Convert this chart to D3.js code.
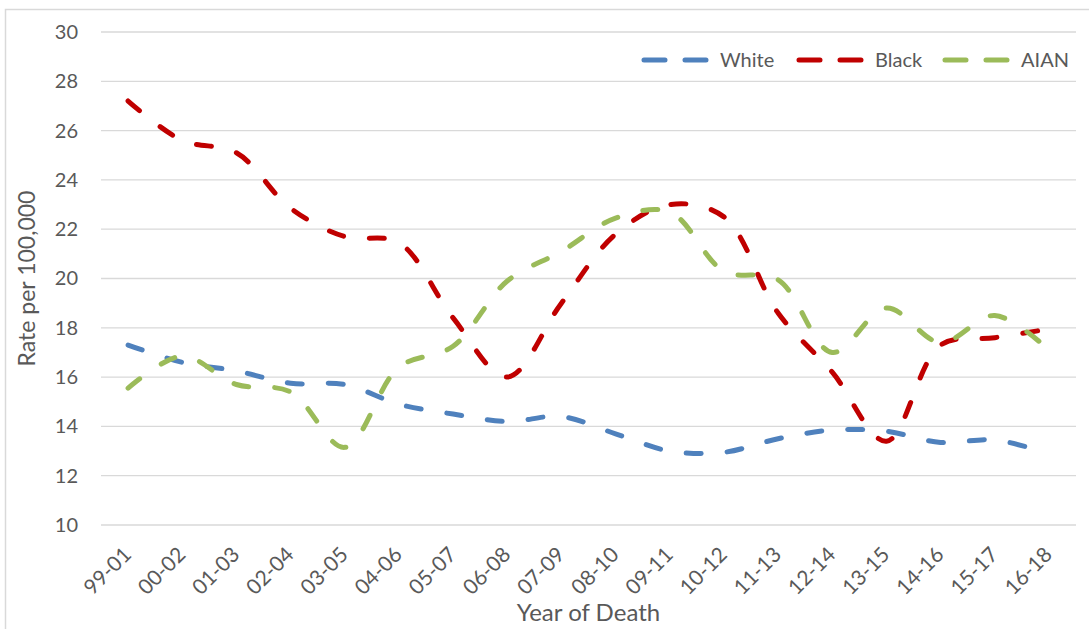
<!DOCTYPE html>
<html>
<head>
<meta charset="utf-8">
<script src="https://cdn.jsdelivr.net/npm/d3@7/dist/d3.min.js"></script>
<style>
  html, body { margin: 0; padding: 0; background: #fff; }
  svg { display: block; font-family: Lato, "Open Sans", sans-serif; }
</style>
</head>
<body>
<svg id="chart" width="1089" height="629"></svg>
<script>
// Three-year rolling rates per 100,000, by race
const periods = ["99-01","00-02","01-03","02-04","03-05","04-06","05-07","06-08","07-09",
                 "08-10","09-11","10-12","11-13","12-14","13-15","14-16","15-17","16-18"];
const white = [17.3, 16.6, 16.25, 15.75, 15.7, 14.9, 14.5, 14.2, 14.4, 13.7, 13.0, 12.95, 13.5, 13.85, 13.8, 13.35, 13.45, 12.9];
const black = [27.2, 25.6, 25.1, 22.85, 21.7, 21.45, 18.4, 16.0, 19.0, 21.8, 23.0, 22.5, 18.6, 16.2, 13.4, 17.3, 17.6, 17.95];
const aian  = [15.55, 16.85, 15.7, 15.4, 13.15, 16.4, 17.25, 19.9, 21.1, 22.45, 22.7, 20.3, 19.95, 17.0, 18.8, 17.4, 18.5, 17.1];
const yTicks = [10, 12, 14, 16, 18, 20, 22, 24, 26, 28, 30];
const seriesNames = ["White", "Black", "AIAN"];
const seriesColors = ["#4f81bd", "#c00000", "#9bbb59"];

const series = [white, black, aian].map((values, i) => ({
  name: seriesNames[i], color: seriesColors[i], values
}));

const svg = d3.select("#chart");
const textColor = "#595959";
const gridColor = "#d9d9d9";

// chart frame
svg.append("path")
  .attr("d", "M5.5,629 V9.5 H1089")
  .attr("fill", "none")
  .attr("stroke", gridColor)
  .attr("stroke-width", 1.5);

const plot = { left: 101, right: 1076, top: 32, bottom: 525 };

const x = d3.scalePoint().domain(periods).range([plot.left, plot.right]).padding(0.5);
const y = d3.scaleLinear().domain([10, 30]).range([plot.bottom, plot.top]);

// horizontal gridlines
svg.append("g")
  .selectAll("line")
  .data(yTicks)
  .join("line")
  .attr("x1", plot.left).attr("x2", plot.right)
  .attr("y1", d => y(d)).attr("y2", d => y(d))
  .attr("stroke", gridColor)
  .attr("stroke-width", 1.3);

// y axis labels
const yAxis = svg.append("g")
  .attr("transform", `translate(${plot.left},0)`)
  .call(d3.axisLeft(y).tickValues(yTicks).tickSize(0).tickPadding(23));
yAxis.select(".domain").remove();
yAxis.selectAll("text")
  .attr("fill", textColor)
  .style("font-size", "20px")
  .style("font-family", "Lato, 'Open Sans', sans-serif");

// x axis labels, rotated
const xAxis = svg.append("g")
  .attr("transform", `translate(0,${plot.bottom})`)
  .call(d3.axisBottom(x).tickSize(0));
xAxis.select(".domain").remove();
xAxis.selectAll(".tick text")
  .attr("fill", textColor)
  .style("font-size", "21px")
  .style("font-family", "Lato, 'Open Sans', sans-serif")
  .attr("text-anchor", "end")
  .attr("dy", null)
  .attr("y", 0)
  .attr("transform", "translate(4,31) rotate(-45)");

// axis titles
svg.append("text")
  .attr("x", (plot.left + plot.right) / 2)
  .attr("y", 621)
  .attr("text-anchor", "middle")
  .attr("fill", textColor)
  .style("font-size", "24px")
  .text("Year of Death");

svg.append("text")
  .attr("transform", `translate(35,${(plot.top + plot.bottom) / 2}) rotate(-90)`)
  .attr("text-anchor", "middle")
  .attr("fill", textColor)
  .style("font-size", "23px")
  .text("Rate per 100,000");

// smoothed dashed lines
const line = d3.line()
  .x((d, i) => x(periods[i]))
  .y(d => y(d))
  .curve(d3.curveCatmullRom.alpha(0.5));

svg.append("g")
  .selectAll("path")
  .data(series)
  .join("path")
  .attr("d", d => line(d.values))
  .attr("fill", "none")
  .attr("stroke", d => d.color)
  .attr("stroke-width", 5)
  .attr("stroke-linecap", "round")
  .attr("stroke-linejoin", "round")
  .attr("stroke-dasharray", "15,26");

// legend
const legendY = 60;
const legendX = [644, 799, 945];
const legend = svg.append("g")
  .selectAll("g")
  .data(series)
  .join("g")
  .attr("transform", (d, i) => `translate(${legendX[i]},${legendY})`);
legend.append("line")
  .attr("x1", 0).attr("x2", 62)
  .attr("y1", 0).attr("y2", 0)
  .attr("stroke", d => d.color)
  .attr("stroke-width", 5)
  .attr("stroke-linecap", "round")
  .attr("stroke-dasharray", "21,20");
legend.append("text")
  .attr("x", 76)
  .attr("y", 7)
  .attr("fill", textColor)
  .style("font-size", "20px")
  .text(d => d.name);
</script>
</body>
</html>
